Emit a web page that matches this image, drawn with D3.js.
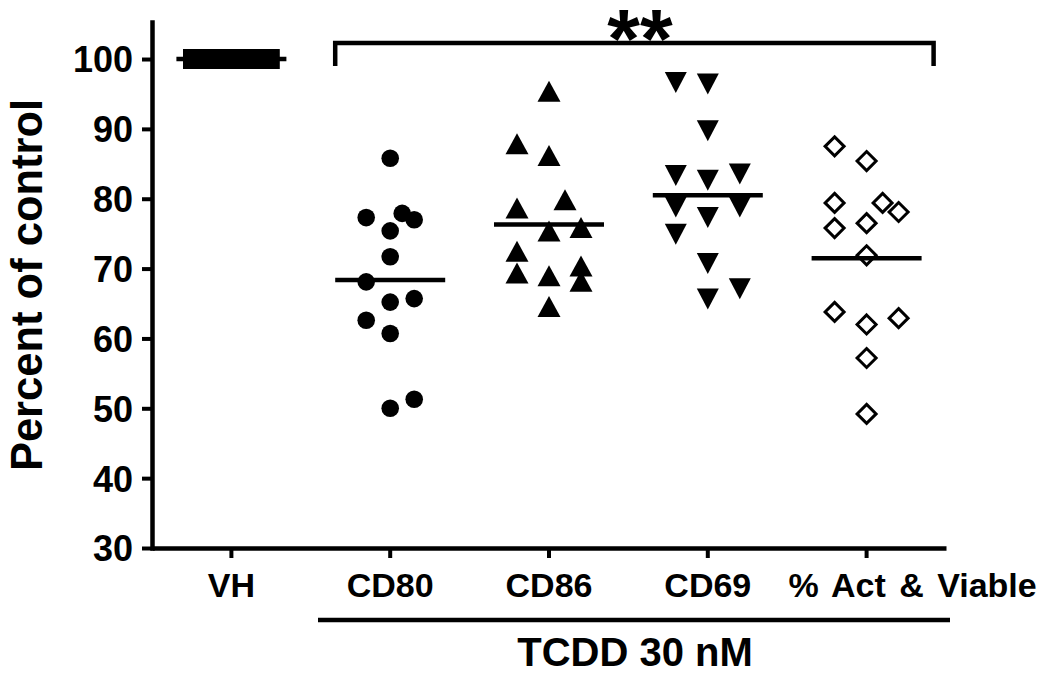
<!DOCTYPE html>
<html lang="en">
<head>
    <meta charset="UTF-8">
    <title>Percent of control</title>
    <script src="https://cdnjs.cloudflare.com/ajax/libs/d3/7.8.5/d3.min.js"></script>
    <style>
        body { margin: 0; background: #fff; }
        text { font-family: "Liberation Sans", Arial, sans-serif; font-weight: bold; fill: #000; }
    </style>
</head>
<body>
<svg id="chart" width="1050" height="674"></svg>
<script>
    // categories and values
    var groups = ["VH", "CD80", "CD86", "CD69", "% Act & Viable"];
    var yTicks = [30, 40, 50, 60, 70, 80, 90, 100];

    var vhValues = [100, 100, 100, 100, 100, 100, 100, 100, 100, 100, 100, 100, 100];
    var cd80Values = [85.8, 77.3, 77.9, 77.0, 75.4, 71.7, 68.1, 65.7, 65.2, 62.6, 60.7, 51.3, 50.0];
    var cd86Values = [95.3, 87.8, 86.1, 79.8, 78.6, 75.3, 75.8, 72.4, 69.3, 68.9, 70.3, 68.1, 64.5];
    var cd69Values = [96.7, 96.5, 89.8, 83.4, 82.7, 83.6, 78.9, 77.4, 78.9, 75.0, 70.8, 65.7, 67.2];
    var actValues = [87.5, 85.4, 79.4, 79.4, 78.1, 75.8, 76.5, 71.9, 63.8, 62.0, 62.9, 57.2, 49.2];

    // horizontal scatter slots (GraphPad style spread), in marker steps
    var vhSlots = [-1.2, -1, -0.8, -0.6, -0.4, -0.2, 0, 0.2, 0.4, 0.6, 0.8, 1, 1.2];
    var cd80Slots = [0, -1, 0.5, 1, 0, 0, -1, 1, 0, -1, 0, 1, 0];
    var cd86Slots = [0, -1, 0, 0.5, -1, 0, 1, -1, -1, 0, 1, 1, 0];
    var cd69Slots = [-1, 0, 0, -1, 0, 1, -1, 0, 1, -1, 0, 0, 1];
    var actSlots = [-1, 0, -1, 0.5, 1, -1, 0, 0, -1, 0, 1, 0, 0];

    var series = [
        {group: "VH", values: vhValues, slots: vhSlots, shape: "square", step: 32},
        {group: "CD80", values: cd80Values, slots: cd80Slots, shape: "circle", step: 24},
        {group: "CD86", values: cd86Values, slots: cd86Slots, shape: "up", step: 32},
        {group: "CD69", values: cd69Values, slots: cd69Slots, shape: "down", step: 32},
        {group: "% Act & Viable", values: actValues, slots: actSlots, shape: "diamond", step: 32}
    ];

    var svg = d3.select("#chart");

    var x = d3.scaleBand().domain(groups).range([152, 946]);
    var y = d3.scaleLinear().domain([30, 105.3]).range([548, 22]);

    // y axis
    var yAxis = svg.append("g")
        .attr("transform", "translate(152,0)")
        .call(d3.axisLeft(y).tickValues(yTicks).tickSize(10).tickSizeOuter(0).tickPadding(9));
    yAxis.select(".domain").attr("stroke-width", 4.5).attr("stroke-linecap", "square");
    yAxis.selectAll(".tick line").attr("stroke-width", 4);
    yAxis.selectAll(".tick text").style("font-size", "36px").attr("dy", "0.36em");

    // x axis
    var xAxis = svg.append("g")
        .attr("transform", "translate(0,548)")
        .call(d3.axisBottom(x).tickSize(10).tickSizeOuter(0));
    xAxis.select(".domain").attr("stroke-width", 4.5);
    xAxis.selectAll(".tick line").attr("stroke-width", 4);
    xAxis.selectAll(".tick text").style("font-size", "34px").attr("y", 49).attr("dy", 0);
    // the last label sits right of its tick in the original
    xAxis.selectAll(".tick text")
        .filter(function (d) { return d === "% Act & Viable"; })
        .attr("x", 46)
        .style("word-spacing", "4px");

    // y label
    svg.append("text")
        .attr("transform", "translate(42,285) rotate(-90)")
        .attr("text-anchor", "middle")
        .style("font-size", "43.5px")
        .text("Percent of control");

    // significance bracket
    var bx0 = x("CD80") + x.bandwidth() / 2 - 55, bx1 = x("% Act & Viable") + x.bandwidth() / 2 + 67;
    svg.append("path")
        .attr("d", "M" + bx0 + ",66V43H" + bx1 + "V66")
        .attr("fill", "none").attr("stroke", "#000").attr("stroke-width", 4.5);
    svg.append("text")
        .attr("x", 640).attr("y", 68)
        .attr("text-anchor", "middle")
        .style("font-size", "84px")
        .text("**");

    // group line + label underneath
    svg.append("line")
        .attr("x1", 318).attr("x2", 950).attr("y1", 620).attr("y2", 620)
        .attr("stroke", "#000").attr("stroke-width", 4.5);
    svg.append("text")
        .attr("x", 635).attr("y", 666)
        .attr("text-anchor", "middle")
        .style("font-size", "40px")
        .text("TCDD 30 nM");

    function shapePath(shape) {
        if (shape === "up") return "M0,-11L11.5,10L-11.5,10Z";
        if (shape === "down") return "M0,11L11,-10L-11,-10Z";
        if (shape === "diamond") return "M0,-9.5L9.5,0L0,9.5L-9.5,0Z";
        if (shape === "square") return "M-10,-10H10V10H-10Z";
        return null;
    }

    series.forEach(function (s) {
        var cx = x(s.group) + x.bandwidth() / 2;
        var g = svg.append("g");
        var pts = s.values.map(function (v, i) { return {v: v, dx: s.slots[i] * s.step}; });

        if (s.shape === "circle") {
            g.selectAll("circle").data(pts).enter().append("circle")
                .attr("cx", function (d) { return cx + d.dx; })
                .attr("cy", function (d) { return y(d.v); })
                .attr("r", 8.8)
                .attr("fill", "#000");
        } else {
            g.selectAll("path").data(pts).enter().append("path")
                .attr("transform", function (d) { return "translate(" + (cx + d.dx) + "," + y(d.v) + ")"; })
                .attr("d", shapePath(s.shape))
                .attr("fill", s.shape === "diamond" ? "#fff" : "#000")
                .attr("stroke", s.shape === "diamond" ? "#000" : "none")
                .attr("stroke-width", 3);
        }

        // mean line
        var m = d3.mean(s.values);
        svg.append("line")
            .attr("x1", cx - 55).attr("x2", cx + 55)
            .attr("y1", y(m)).attr("y2", y(m))
            .attr("stroke", "#000").attr("stroke-width", 4.5);
    });
</script>
</body>
</html>
